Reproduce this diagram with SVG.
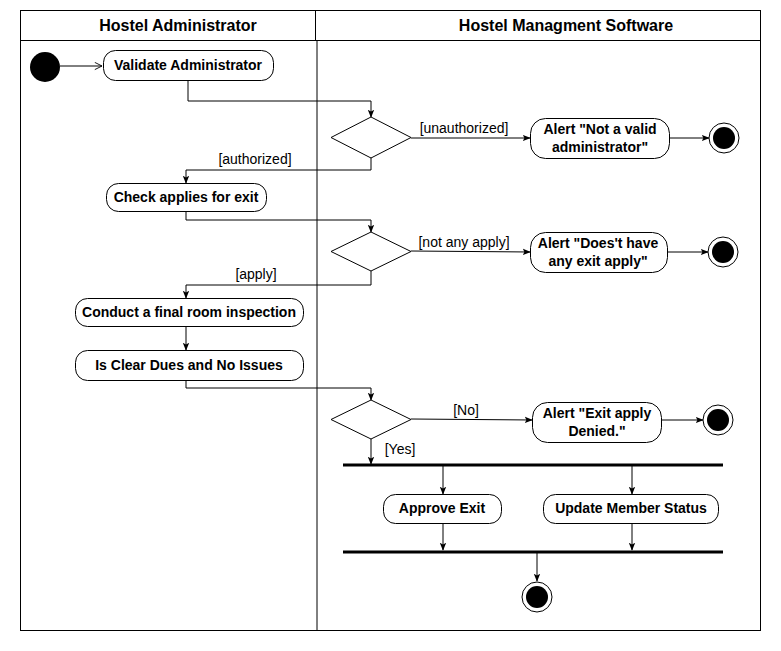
<svg xmlns="http://www.w3.org/2000/svg" width="781" height="651" viewBox="0 0 781 651">
<defs>
<style>
.lane{fill:none;stroke:#000;stroke-width:1}
.hdr{font-family:"Liberation Sans",Arial,sans-serif;font-size:16px;font-weight:bold;fill:#000;text-anchor:middle}
.box{fill:#fff;stroke:#000;stroke-width:1}
.txt{font-family:"Liberation Sans",Arial,sans-serif;font-size:14px;font-weight:bold;fill:#000;text-anchor:middle}
.lbl{font-family:"Liberation Sans",Arial,sans-serif;font-size:14px;fill:#000;text-anchor:middle}
.edge{fill:none;stroke:#000;stroke-width:1}
.bar{stroke:#000;stroke-width:3}
</style>
<marker id="arr" viewBox="0 0 10 10" refX="9" refY="5" markerWidth="8" markerHeight="8" markerUnits="userSpaceOnUse" orient="auto">
<path d="M0,1 L10,5 L0,9 L2,5 Z" fill="#000"/>
</marker>
<marker id="open" viewBox="0 0 10 10" refX="9" refY="5" markerWidth="9" markerHeight="9" markerUnits="userSpaceOnUse" orient="auto">
<path d="M1,1 L9,5 L1,9" fill="none" stroke="#000" stroke-width="1"/>
</marker>
</defs>
<rect width="781" height="651" fill="#fff"/>
<g id="lanes">
<rect class="lane" x="20.5" y="10.5" width="740" height="620"/>
<line class="lane" x1="20" y1="40.5" x2="761" y2="40.5"/>
<line class="lane" x1="315.5" y1="10" x2="315.5" y2="40"/>
<line class="lane" x1="317" y1="40" x2="317" y2="630"/>
<text class="hdr" x="178" y="31">Hostel Administrator</text>
<text class="hdr" x="566" y="31">Hostel Managment Software</text>
</g>
<g id="connectors">
<line class="edge" x1="60" y1="66" x2="102" y2="66" marker-end="url(#open)"/>
<polyline class="edge" points="188,80 188,101 371,101 371,117" marker-end="url(#arr)"/>
<line class="edge" x1="411" y1="138" x2="530" y2="138" marker-end="url(#arr)"/>
<line class="edge" x1="669" y1="138" x2="709" y2="138" marker-end="url(#arr)"/>
<polyline class="edge" points="371,157 371,170 186,170 186,183" marker-end="url(#arr)"/>
<polyline class="edge" points="186,211 186,220 371,220 371,232" marker-end="url(#arr)"/>
<line class="edge" x1="411" y1="251" x2="530" y2="252" marker-end="url(#arr)"/>
<line class="edge" x1="667" y1="252" x2="708" y2="252" marker-end="url(#arr)"/>
<polyline class="edge" points="371,271 371,285 186,285 186,298" marker-end="url(#arr)"/>
<line class="edge" x1="186" y1="326" x2="186" y2="350" marker-end="url(#arr)"/>
<polyline class="edge" points="186,380 186,388 371,388 371,400" marker-end="url(#arr)"/>
<line class="edge" x1="411" y1="419" x2="532" y2="420" marker-end="url(#arr)"/>
<line class="edge" x1="661" y1="420" x2="703" y2="420" marker-end="url(#arr)"/>
<line class="edge" x1="371" y1="439" x2="371" y2="464" marker-end="url(#arr)"/>
<line class="edge" x1="443" y1="466" x2="443" y2="494" marker-end="url(#arr)"/>
<line class="edge" x1="632" y1="466" x2="632" y2="494" marker-end="url(#arr)"/>
<line class="edge" x1="443" y1="523" x2="443" y2="550" marker-end="url(#arr)"/>
<line class="edge" x1="632" y1="523" x2="632" y2="550" marker-end="url(#arr)"/>
<line class="edge" x1="537" y1="553" x2="537" y2="581" marker-end="url(#arr)"/>
<text class="lbl" x="464" y="133">[unauthorized]</text>
<text class="lbl" x="255" y="164">[authorized]</text>
<text class="lbl" x="464" y="247">[not any apply]</text>
<text class="lbl" x="256" y="279">[apply]</text>
<text class="lbl" x="466" y="415">[No]</text>
<text class="lbl" x="400" y="454">[Yes]</text>
</g>
<g id="start"><circle cx="45" cy="67" r="15" fill="#000"/></g>
<g id="validate"><rect class="box" x="103.5" y="50.5" width="170" height="30" rx="12"/><text class="txt" x="188" y="70">Validate Administrator</text></g>
<g id="dec1"><polygon class="box" points="371,117 411,137.5 371,158 331,137.5"/></g>
<g id="alert1"><rect class="box" x="530.5" y="118.5" width="139" height="40" rx="15"/><text class="txt" x="600" y="134">Alert "Not a valid</text><text class="txt" x="600" y="152">administrator"</text></g>
<g id="end1"><circle cx="724" cy="138" r="15" fill="#fff" stroke="#000"/><circle cx="724" cy="138" r="11" fill="#000"/></g>
<g id="check"><rect class="box" x="106.5" y="183.5" width="160" height="28" rx="12"/><text class="txt" x="186" y="202">Check applies for exit</text></g>
<g id="dec2"><polygon class="box" points="371,232 411,251.5 371,271 331,251.5"/></g>
<g id="alert2"><rect class="box" x="530.5" y="232.5" width="137" height="40" rx="15"/><text class="txt" x="598" y="248">Alert "Does't have</text><text class="txt" x="598" y="266">any exit apply"</text></g>
<g id="end2"><circle cx="723" cy="252" r="15" fill="#fff" stroke="#000"/><circle cx="723" cy="252" r="11" fill="#000"/></g>
<g id="conduct"><rect class="box" x="75.5" y="298.5" width="228" height="28" rx="12"/><text class="txt" x="189" y="317">Conduct a final room inspection</text></g>
<g id="clear"><rect class="box" x="75.5" y="350.5" width="228" height="30" rx="12"/><text class="txt" x="189" y="370">Is Clear Dues and No Issues</text></g>
<g id="dec3"><polygon class="box" points="371,400 411,419.5 371,439 331,419.5"/></g>
<g id="alert3"><rect class="box" x="532.5" y="402.5" width="129" height="40" rx="15"/><text class="txt" x="597" y="418">Alert "Exit apply</text><text class="txt" x="597" y="436">Denied."</text></g>
<g id="end3"><circle cx="718" cy="420" r="15" fill="#fff" stroke="#000"/><circle cx="718" cy="420" r="11" fill="#000"/></g>
<g id="fork"><line class="bar" x1="343" y1="465" x2="723" y2="465"/></g>
<g id="approve"><rect class="box" x="383.5" y="494.5" width="118" height="29" rx="12"/><text class="txt" x="442" y="513">Approve Exit</text></g>
<g id="update"><rect class="box" x="543.5" y="494.5" width="175" height="29" rx="12"/><text class="txt" x="631" y="513">Update Member Status</text></g>
<g id="join"><line class="bar" x1="343" y1="552" x2="723" y2="552"/></g>
<g id="end4"><circle cx="537" cy="597" r="15" fill="#fff" stroke="#000"/><circle cx="537" cy="597" r="11" fill="#000"/></g>
</svg>
